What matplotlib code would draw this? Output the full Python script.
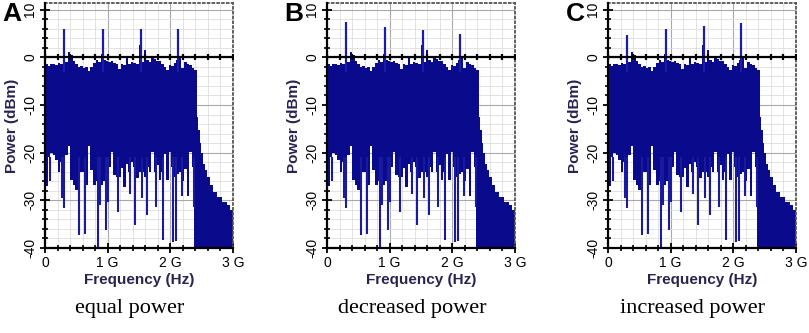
import numpy as np
import matplotlib.pyplot as plt
from matplotlib.ticker import MultipleLocator

plt.rcParams['font.family'] = ['Liberation Sans', 'DejaVu Sans']

# -----------------------------
# spectrum data
# 60 equal bins from 0 to the band edge, same noise floor in all panels
# -----------------------------
band_edge = 2.42  # GHz

upper_db = [-1.5, -1.8, -1.3, -1.3, -1.6, -1.2, -1.5, -1.3, -1.0, 1.1,
            0.4, -0.8, -1.5, -2.0, -1.8, -2.3, -2.0, -2.8, -2.0, -1.2,
            -0.6, -0.9, 0.6, -0.6, -0.8, -1.0, -0.7, -1.2, -1.5, -2.4,
            -1.4, -1.7, -0.2, -1.3, -0.9, -1.2, -1.4, 2.5, -1.0, 1.5,
            -0.6, -1.0, 0.2, -0.4, -0.8, -0.8, -1.3, -2.0, -2.7, -1.6,
            -1.8, -1.2, -0.5, 0.2, -2.3, -1.0, -1.3, -1.6, -2.2, -2.6]

lower_db = [-27.0, -21.0, -20.0, -20.5, -21.6, -24.0, -22.0, -24.0, -20.5, -18.5,
            -25.8, -26.8, -27.9, -25.0, -24.0, -24.0, -26.8, -18.5, -23.7, -26.8,
            -26.0, -25.0, -26.8, -26.0, -24.0, -23.0, -19.9, -24.7, -25.0, -25.0,
            -23.3, -27.2, -22.3, -24.0, -22.0, -23.0, -25.4, -24.0, -24.0, -25.1,
            -23.0, -24.0, -19.9, -24.0, -22.6, -25.8, -24.0, -20.2, -25.8, -19.9,
            -23.0, -25.0, -24.4, -24.0, -26.0, -23.5, -29.0, -19.9, -23.0, -40.0]

# narrow dips below the noise floor
spike_ghz = [0.08, 0.27, 0.31, 0.54, 0.64, 0.84, 0.88, 0.97, 1.01, 1.17,
             1.36, 1.44, 1.54, 1.63, 1.77, 1.89, 2.05, 2.09, 2.18, 2.38]
spike_db = [-26.0, -29.6, -31.7, -37.3, -37.0, -40.0, -31.0, -36.3, -30.3, -32.4,
            -28.6, -35.2, -29.6, -33.1, -31.4, -38.4, -38.7, -38.5, -29.0, -31.4]

# roll-off above the band edge (bin edges in GHz, level per bin)
rolloff_edges = [2.42, 2.445, 2.47, 2.49, 2.52, 2.55, 2.58, 2.63,
                 2.68, 2.74, 2.82, 2.90, 2.95, 3.0]
rolloff_db = [-12.5, -15.3, -18.0, -20.0, -22.3, -23.7, -25.1,
              -26.8, -28.2, -29.3, -30.3, -31.0, -32.0]

# four carriers
tone_ghz = [0.31, 0.93, 1.53, 2.12]
tones_equal = [6.0, 6.0, 6.0, 6.0]
tones_decreased = [7.4, 6.4, 5.7, 5.0]
tones_increased = [4.7, 6.0, 6.6, 7.2]

panel_letters = ["A", "B", "C"]
captions = ["equal power", "decreased power", "increased power"]
panel_tones = [tones_equal, tones_decreased, tones_increased]

blue = "#0a0a8c"
label_color = "#2a2350"

W, H = 809, 333
fig = plt.figure(figsize=(W / 100, H / 100), dpi=100)

ax_left = [45, 327, 608]
ax_w, ax_top, ax_bot = 188, 3, 248

edges = np.linspace(0, band_edge, len(upper_db) + 1)
ticks_02 = np.arange(0, 3.01, 0.2)

for i in range(3):
    ax = fig.add_axes([ax_left[i] / W, 1 - ax_bot / H, ax_w / W, (ax_bot - ax_top) / H])

    ax.stairs(upper_db, edges, baseline=lower_db, fill=True, color=blue, zorder=2)
    ax.vlines(spike_ghz, -21, spike_db, color="#1a1aa0", lw=1.5, zorder=2)
    ax.stairs(rolloff_db, rolloff_edges, baseline=-40, fill=True, color=blue, zorder=2)
    ax.vlines(tone_ghz, -3, panel_tones[i], color="#1c1ca8", lw=1.6, zorder=2)

    # zero line with its own tick marks
    ax.axhline(0, color="black", lw=1.6, zorder=4)
    ax.plot(ticks_02, np.zeros_like(ticks_02), "|", color="black", ms=5, mew=1.6, zorder=5)

    ax.set_xlim(0, 3)
    ax.set_ylim(-40, 11.4)
    ax.set_xticks([0, 1, 2, 3])
    ax.set_xticklabels(["0", "1 G", "2 G", "3 G"], fontsize=10)
    ax.xaxis.set_minor_locator(MultipleLocator(0.2))
    ax.set_yticks([-40, -30, -20, -10, 0, 10])
    ax.set_yticklabels(["-40", "-30", "-20", "-10", "0", "10"], fontsize=10,
                       rotation=90, va="center")
    ax.yaxis.set_minor_locator(MultipleLocator(2))

    ax.grid(which="minor", color="#dedede", lw=0.6, zorder=0)
    ax.grid(which="major", color="#a8a8a8", lw=0.8, zorder=0)
    ax.set_axisbelow(True)

    ax.tick_params(which="major", direction="inout", length=7, width=1.3, pad=2)
    ax.tick_params(which="minor", direction="inout", length=4, width=1.2)
    ax.tick_params(top=False, right=False, which="both")

    for s in ["left", "bottom"]:
        ax.spines[s].set_linewidth(1.6)
        ax.spines[s].set_zorder(5)
    for s in ["top", "right"]:
        ax.spines[s].set_linestyle(":")
        ax.spines[s].set_linewidth(1.3)
        ax.spines[s].set_color("#555555")

    ax.set_xlabel("Frequency (Hz)", fontsize=11, fontweight="bold", color=label_color)
    ax.xaxis.label.set_va("center")
    ax.xaxis.set_label_coords(0.5, -(280 - ax_bot) / (ax_bot - ax_top))
    ax.set_ylabel("Power (dBm)", fontsize=11, fontweight="bold", color=label_color)
    ax.yaxis.label.set_va("center")
    ax.yaxis.set_label_coords(-33 / ax_w, 0.5)

    fig.text((ax_left[i] - 33) / W, 1 - 14 / H, panel_letters[i], fontsize=19,
             fontweight="bold", ha="center", va="center")
    fig.text((ax_left[i] + ax_w / 2 - 9) / W, 1 - 308 / H, captions[i], fontsize=16,
             family="Liberation Serif", ha="center", va="center")

fig.savefig("out.png", dpi=100)
